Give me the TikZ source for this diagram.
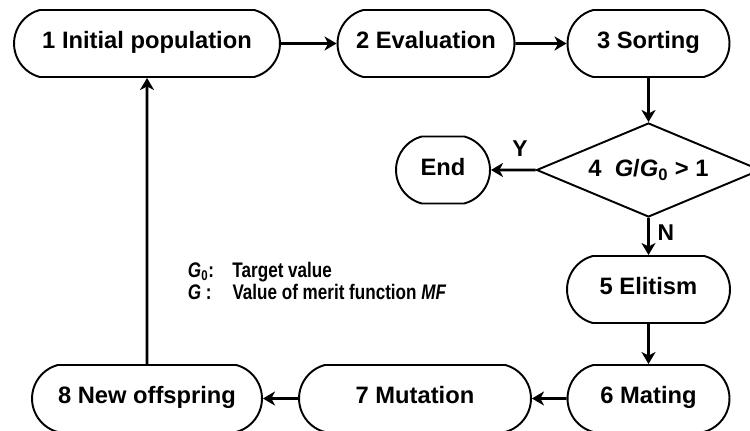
\documentclass[tikz,border=0pt]{standalone}
\usepackage{fontspec}
\setmainfont{Liberation Sans}
\usetikzlibrary{arrows, arrows.meta, shapes, shapes.misc, shapes.geometric, positioning}
\newcommand{\narrowline}[1]{\scalebox{0.81}[1]{#1}}

\begin{document}
\begin{tikzpicture}[>={Stealth[length=0.24cm, width=0.28cm, inset=0.07cm]},
    x=0.02cm, y=-0.02cm, line width=1.1pt,
    box/.style={draw, rounded rectangle, rounded rectangle arc length=150,
        minimum height=1.34cm, inner xsep=0pt, text height=1.45ex, text depth=0.3ex,
        font=\fontsize{13.5}{16}\selectfont\bfseries},
    test/.style={draw, diamond, aspect=2.38, inner sep=0pt,
        minimum width=4.48cm, minimum height=1.88cm,
        font=\fontsize{13.5}{16}\selectfont\bfseries},
    flow/.style={->, line width=1.5pt},
    lbl/.style={font=\fontsize{13}{14}\selectfont\bfseries, inner sep=0pt}]
\useasboundingbox (0, 0) rectangle (750, 431);
\clip (0, 0) rectangle (750, 431);
\node[box, minimum width=5.32cm] (init) at (147, 43.5) {1 Initial population};
\node[box, minimum width=3.54cm] (eval) at (426, 43.5) {2 Evaluation};
\node[box, minimum width=3.24cm] (sort) at (648.5, 43.5) {3 Sorting};
\node[test] (check) at (648.5, 170) {4~ \textit{G}/\textit{G}\textsubscript{0} > 1};
\node[box, minimum width=1.88cm] (end) at (443, 170) {End};
\node[box, minimum width=3.26cm] (elit) at (648.5, 289.5) {5 Elitism};
\node[box, minimum width=3.24cm] (mate) at (648.5, 398.5) {6 Mating};
\node[box, minimum width=4.64cm] (mut) at (415, 398.5) {7 Mutation};
\node[box, minimum width=4.6cm] (offs) at (147, 398.5) {8 New offspring};
% legend
\node[anchor=west, align=left, inner sep=0pt,
      font=\fontsize{12}{13}\selectfont\bfseries] (legend) at (187, 281)
    {\narrowline{\makebox[1.1cm][l]{\textit{G}\textsubscript{0}: }Target value}\\
     \narrowline{\makebox[1.1cm][l]{\textit{G} :}Value of merit function \textit{MF}}};
\draw[flow] (init) -- (eval);
\draw[flow] (eval) -- (sort);
\draw[flow] (sort) -- (check);
\draw[flow] (check) -- node [lbl, pos=0.35, above=7pt] {Y} (end);
\draw[flow] (check) -- node [lbl, pos=0.4, right=4.5pt] {N} (elit);
\draw[flow] (elit) -- (mate);
\draw[flow] (mate) -- (mut);
\draw[flow] (mut) -- (offs);
\draw[flow] (offs) -- (init);
\end{tikzpicture}
\end{document}
